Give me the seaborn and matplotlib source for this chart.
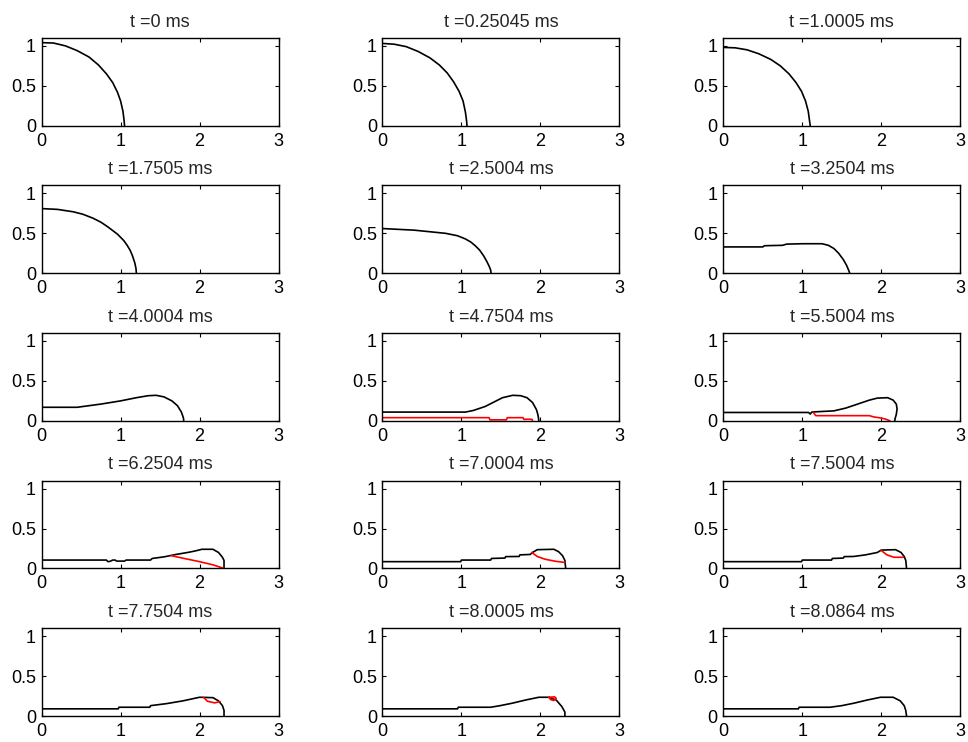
import matplotlib
matplotlib.use("Agg")
import matplotlib.pyplot as plt
import numpy as np
import seaborn as sns

# time stamps shown in the panel titles
times = ["0", "0.25045", "1.0005", "1.7505", "2.5004", "3.2504", "4.0004", "4.7504",
         "5.5004", "6.2504", "7.0004", "7.5004", "7.7504", "8.0005", "8.0864"]

# black interface profile, one list per panel
black_x = [
    [0, 0.15, 0.3, 0.45, 0.6, 0.72, 0.82, 0.9, 0.96, 1.0, 1.03, 1.045, 1.05],
    [0, 0.15, 0.3, 0.45, 0.6, 0.72, 0.82, 0.9, 0.97, 1.02, 1.05, 1.065, 1.07],
    [0, 0.15, 0.3, 0.45, 0.6, 0.72, 0.83, 0.92, 0.99, 1.04, 1.075, 1.09, 1.1],
    [0, 0.2, 0.4, 0.52, 0.65, 0.75, 0.84, 0.92, 0.96, 1.0, 1.04, 1.08, 1.12, 1.15, 1.18, 1.195, 1.2],
    [0, 0.2, 0.4, 0.6, 0.8, 0.95, 1.05, 1.12, 1.18, 1.23, 1.28, 1.32, 1.35, 1.37, 1.375],
    [0, 0.5, 0.52, 0.75, 0.8, 1.0, 1.25, 1.33, 1.4, 1.46, 1.52, 1.56, 1.59, 1.6],
    [0, 0.45, 0.6, 0.75, 1.0, 1.2, 1.35, 1.45, 1.55, 1.65, 1.72, 1.77, 1.795, 1.8],
    [0, 1.05, 1.15, 1.3, 1.42, 1.52, 1.65, 1.75, 1.83, 1.9, 1.95, 1.97, 1.98],
    [0, 1.08, 1.1, 1.12, 1.2, 1.4, 1.55, 1.7, 1.85, 1.95, 2.08, 2.15, 2.19, 2.2, 2.19, 2.175, 2.17],
    [0, 0.82, 0.84, 0.87, 0.9, 0.93, 0.95, 1.05, 1.07, 1.38, 1.4, 1.55, 1.7, 1.85, 1.95, 2.03,
     2.17, 2.24, 2.29, 2.31, 2.31],
    [0, 0.99, 1.0, 1.37, 1.38, 1.55, 1.56, 1.73, 1.74, 1.87, 1.9, 1.96, 2.17, 2.23, 2.28, 2.31, 2.32],
    [0, 0.99, 1.0, 1.37, 1.38, 1.52, 1.53, 1.65, 1.8, 1.95, 2.0, 2.18, 2.25, 2.29, 2.31, 2.32],
    [0, 0.97, 0.98, 1.37, 1.38, 1.58, 1.79, 2.0, 2.17, 2.24, 2.29, 2.31, 2.31],
    [0, 0.95, 0.96, 1.37, 1.49, 1.64, 1.81, 1.98, 2.1, 2.2, 2.27, 2.31, 2.31],
    [0, 0.95, 0.96, 1.35, 1.5, 1.65, 1.82, 1.99, 2.15, 2.24, 2.29, 2.31, 2.32],
]
black_y = [
    [1.04, 1.035, 1.0, 0.94, 0.86, 0.76, 0.65, 0.54, 0.42, 0.31, 0.18, 0.06, 0],
    [1.03, 1.02, 0.99, 0.93, 0.85, 0.76, 0.66, 0.55, 0.43, 0.31, 0.17, 0.06, 0],
    [0.98, 0.975, 0.95, 0.9, 0.83, 0.75, 0.65, 0.54, 0.43, 0.31, 0.18, 0.07, 0],
    [0.81, 0.8, 0.77, 0.74, 0.69, 0.64, 0.58, 0.52, 0.49, 0.45, 0.41, 0.355, 0.29, 0.22, 0.13, 0.06, 0],
    [0.56, 0.55, 0.54, 0.52, 0.5, 0.47, 0.43, 0.39, 0.34, 0.29, 0.22, 0.15, 0.09, 0.04, 0],
    [0.33, 0.33, 0.345, 0.35, 0.365, 0.37, 0.37, 0.35, 0.31, 0.25, 0.17, 0.1, 0.03, 0],
    [0.17, 0.17, 0.19, 0.21, 0.25, 0.29, 0.315, 0.32, 0.3, 0.25, 0.19, 0.11, 0.04, 0],
    [0.11, 0.11, 0.13, 0.18, 0.24, 0.29, 0.32, 0.315, 0.29, 0.23, 0.14, 0.07, 0],
    [0.105, 0.105, 0.085, 0.11, 0.115, 0.125, 0.16, 0.21, 0.26, 0.285, 0.29, 0.26, 0.21, 0.15,
     0.08, 0.03, 0],
    [0.105, 0.105, 0.085, 0.09, 0.105, 0.105, 0.092, 0.092, 0.105, 0.105, 0.125, 0.145, 0.175,
     0.2, 0.22, 0.24, 0.24, 0.2, 0.14, 0.1, 0],
    [0.085, 0.085, 0.105, 0.105, 0.125, 0.13, 0.148, 0.15, 0.17, 0.175, 0.2, 0.235, 0.24, 0.21,
     0.16, 0.1, 0],
    [0.085, 0.085, 0.105, 0.105, 0.125, 0.13, 0.148, 0.15, 0.17, 0.2, 0.23, 0.235, 0.2, 0.15, 0.1, 0],
    [0.09, 0.09, 0.11, 0.11, 0.13, 0.155, 0.19, 0.235, 0.23, 0.19, 0.13, 0.07, 0],
    [0.09, 0.09, 0.11, 0.11, 0.13, 0.16, 0.2, 0.235, 0.235, 0.2, 0.12, 0.05, 0],
    [0.09, 0.09, 0.11, 0.11, 0.13, 0.16, 0.2, 0.235, 0.235, 0.19, 0.13, 0.07, 0],
]

# red contour (empty where the panel has none)
red_x = [[], [], [], [], [], [], [],
         [0, 1.35, 1.36, 1.57, 1.58, 1.78, 1.79, 1.89, 1.9],
         [1.14, 1.17, 1.85, 1.9, 2.0, 2.06, 2.11],
         [1.64, 1.83, 2.0, 2.17, 2.31],
         [1.89, 1.96, 2.06, 2.19, 2.31],
         [2.0, 2.07, 2.16, 2.28],
         [2.05, 2.1, 2.19, 2.26],
         [2.11, 2.13, 2.17, 2.2, 2.18, 2.11],
         []]
red_y = [[], [], [], [], [], [], [],
         [0.04, 0.04, 0.013, 0.013, 0.04, 0.04, 0.02, 0.02, 0.005],
         [0.105, 0.065, 0.065, 0.05, 0.035, 0.02, 0.0],
         [0.16, 0.12, 0.085, 0.045, 0.0],
         [0.2, 0.15, 0.115, 0.09, 0.075],
         [0.225, 0.17, 0.14, 0.14],
         [0.235, 0.185, 0.165, 0.18],
         [0.235, 0.205, 0.195, 0.22, 0.24, 0.235],
         []]

sns.set_style("ticks")
plt.rcParams["font.family"] = ["Liberation Sans", "DejaVu Sans"]
plt.rcParams["font.size"] = 13

fig, axes = plt.subplots(5, 3, figsize=(9.68, 7.42), dpi=100)
fig.subplots_adjust(left=0.043, right=0.992, top=0.949, bottom=0.035, wspace=0.439, hspace=0.68)

for i, ax in enumerate(axes.flat):
    sns.lineplot(x=black_x[i], y=black_y[i], sort=False, estimator=None,
                 color="black", lw=1.2, ax=ax)
    if red_x[i]:
        sns.lineplot(x=red_x[i], y=red_y[i], sort=False, estimator=None,
                     color="red", lw=1.2, ax=ax)
    ax.set_xlim(0, 3)
    ax.set_ylim(0, 1.1)
    ax.set_xticks([0, 1, 2, 3])
    ax.set_yticks([0, 0.5, 1])
    ax.set_yticklabels(["0", "0.5", "1"])
    ax.tick_params(direction="in", top=True, right=True, length=3, width=0.8,
                   labelsize=13, colors="black")
    ax.tick_params(axis="x", pad=5)
    ax.tick_params(axis="y", pad=4)
    for s in ax.spines.values():
        s.set_color("black")
        s.set_linewidth(1.0)
    ax.set_title(f"t ={times[i]} ms", fontsize=13, pad=8)

fig.savefig("out.png", dpi=100, facecolor="white")
